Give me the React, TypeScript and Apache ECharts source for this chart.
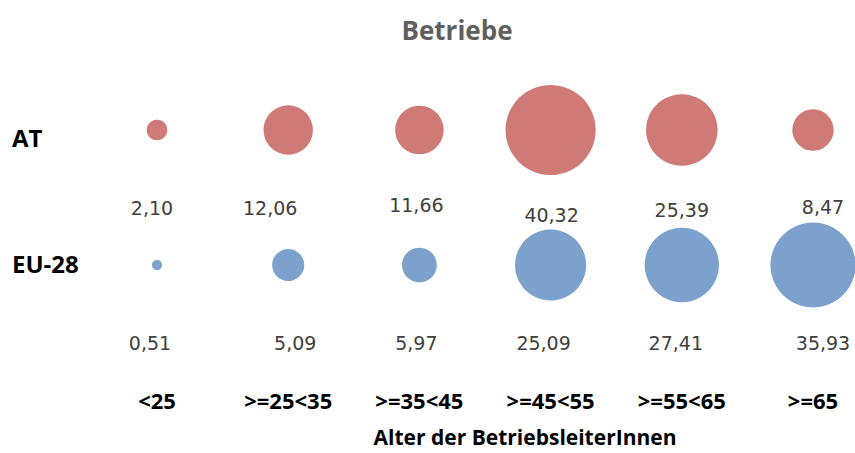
import React, { useEffect, useRef } from "react";
import * as echarts from "echarts";

const categories = ["<25", ">=25<35", ">=35<45", ">=45<55", ">=55<65", ">=65"];
const rows = ["EU-28", "AT"];
const atValues = [2.1, 12.06, 11.66, 40.32, 25.39, 8.47];
const euValues = [0.51, 5.09, 5.97, 25.09, 27.41, 35.93];

// manual label nudges (style only)
const atNudge = [[-5, 0], [-18, 0], [-3, -3], [1, 7], [0, 2], [10, -1]];
const euNudge = [[-7, 0], [7, 0], [-3, 0], [-7, 0], [-6, 0], [10, 0]];

const fmt = (v: number) => v.toFixed(2).replace(".", ",");

export default function App() {
  const ref = useRef<HTMLDivElement>(null);
  useEffect(() => {
    document.body.style.margin = "0";
    const chart = echarts.init(ref.current!, null, { renderer: "svg" });
    const mk = (name: string, vals: number[], nudge: number[][], color: string) => ({
      type: "scatter",
      name,
      data: vals.map((v, i) => ({
        value: [i, name, v],
        label: { offset: [nudge[i][0], 78 + nudge[i][1]] },
      })),
      symbolSize: (d: any) => 14.2 * Math.sqrt(d[2]),
      itemStyle: { color, opacity: 1 },
      label: {
        show: true,
        position: "inside",
        formatter: (p: any) => fmt(p.value[2]),
        fontFamily: "DejaVu Sans",
        fontSize: 19,
        color: "#404040",
      },
    });
    chart.setOption({
      animation: false,
      title: {
        text: "Betriebe",
        left: 452,
        top: 12,
        textAlign: "center",
        textStyle: { fontFamily: "Open Sans", fontSize: 26, fontWeight: "bold", color: "#5f5f5f" },
      },
      grid: { left: 157, right: 42, top: 130, bottom: 188 },
      xAxis: {
        type: "category",
        data: categories,
        boundaryGap: false,
        axisLine: { show: false },
        axisTick: { show: false },
        splitLine: { show: false },
        axisLabel: {
          margin: 124,
          fontFamily: "Open Sans",
          fontWeight: "bold",
          fontSize: 22,
          color: "#000",
          interval: 0,
        },
        name: "Alter der BetriebsleiterInnen",
        nameLocation: "middle",
        nameGap: 160,
        nameTextStyle: {
          fontFamily: "Open Sans",
          fontWeight: "bold",
          fontSize: 21,
          lineHeight: 24,
          color: "#000",
          padding: [0, 0, 0, 80],
        },
      },
      yAxis: {
        type: "category",
        data: rows,
        boundaryGap: false,
        axisLine: { show: false },
        axisTick: { show: false },
        splitLine: { show: false },
        axisLabel: {
          margin: 145,
          align: "left",
          formatter: (v: string) => (v === "AT" ? "{a|" + v + "}" : "{b|" + v + "}"),
          rich: {
            a: { fontFamily: "Open Sans", fontWeight: "bold", fontSize: 24, color: "#000", padding: [14, 0, 0, 0] },
            b: { fontFamily: "Open Sans", fontWeight: "bold", fontSize: 24, color: "#000", padding: [0, 0, 4, 0] },
          },
        },
      },
      series: [
        mk("AT", atValues, atNudge, "#D07A78"),
        mk("EU-28", euValues, euNudge, "#7CA1CD"),
      ],
    });
    return () => chart.dispose();
  }, []);
  return <div ref={ref} style={{ width: 855, height: 453 }} />;
}
